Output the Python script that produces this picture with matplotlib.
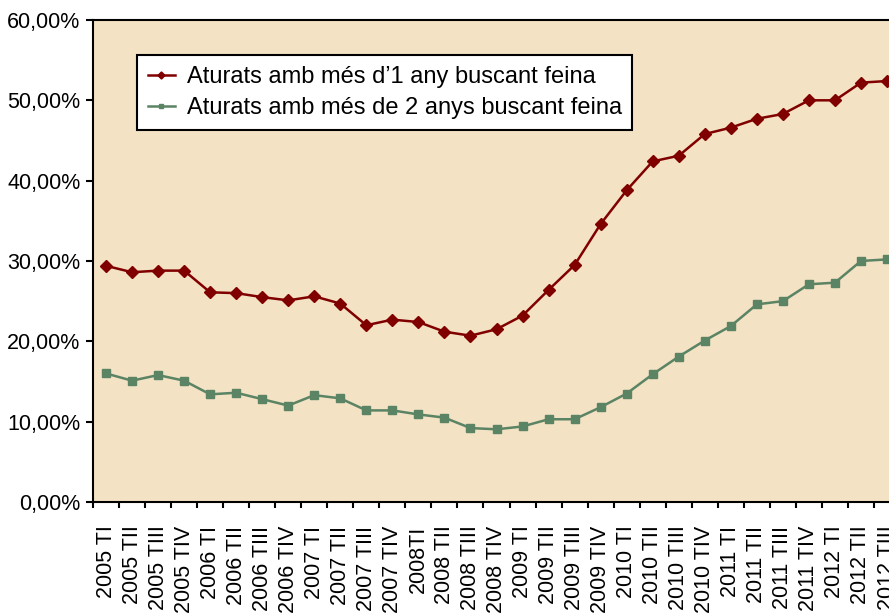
import numpy as np
import matplotlib.pyplot as plt
from matplotlib.ticker import FuncFormatter, FixedLocator

plt.rcParams['font.family'] = ['Liberation Sans', 'DejaVu Sans']

trimestres = ['2005 TI', '2005 TII', '2005 TIII', '2005 TIV',
              '2006 TI', '2006 TII', '2006 TIII', '2006 TIV',
              '2007 TI', '2007 TII', '2007 TIII', '2007 TIV',
              '2008TI', '2008 TII', '2008 TIII', '2008 TIV',
              '2009 TI', '2009 TII', '2009 TIII', '2009 TIV',
              '2010 TI', '2010 TII', '2010 TIII', '2010 TIV',
              '2011 TI', '2011 TII', '2011 TIII', '2011 TIV',
              '2012 TI', '2012 TII', '2012 TIII']

# percentatges
mes_1_any = [29.4, 28.6, 28.8, 28.8, 26.1, 26.0, 25.5, 25.1, 25.6, 24.7,
             22.0, 22.7, 22.4, 21.2, 20.7, 21.5, 23.2, 26.4, 29.5, 34.6,
             38.8, 42.4, 43.1, 45.8, 46.6, 47.7, 48.3, 50.0, 50.0, 52.2, 52.4]
mes_2_anys = [16.0, 15.1, 15.8, 15.1, 13.4, 13.6, 12.8, 12.0, 13.3, 12.9,
              11.4, 11.4, 10.9, 10.5, 9.2, 9.05, 9.4, 10.3, 10.3, 11.8,
              13.5, 15.9, 18.1, 20.1, 21.9, 24.6, 25.0, 27.1, 27.3, 30.0, 30.2]

fig = plt.figure(figsize=(8.89, 6.13), dpi=100)
# the plot runs past the right edge of the figure, like the original
ax = fig.add_axes([0.1046, 0.1811, 0.9078, 0.7863])
ax.set_facecolor('#F4E2C4')

x = np.arange(len(trimestres))
ax.plot(x, mes_1_any, color='#800000', lw=1.8, marker='D', ms=6,
        label='Aturats amb més d\u20191 any buscant feina')
ax.plot(x, mes_2_anys, color='#5A8464', lw=1.8, marker='s', ms=6,
        label='Aturats amb més de 2 anys buscant feina')

ax.set_xlim(-0.5, len(trimestres) - 0.5)
ax.set_ylim(0, 60)
ax.set_yticks(np.arange(0, 61, 10))
ax.yaxis.set_major_formatter(FuncFormatter(lambda v, p: f'{v:.2f}%'.replace('.', ',')))

ax.set_xticks(x)
ax.set_xticklabels(trimestres, rotation=90)
ax.xaxis.set_minor_locator(FixedLocator(np.arange(-0.5, len(trimestres), 1)))
ax.tick_params(axis='x', which='major', length=0, pad=17, labelsize=15.5)
ax.tick_params(axis='x', which='minor', length=4, width=1.5, color='black')
ax.tick_params(axis='y', length=5, width=1.5, pad=4, labelsize=15.5)

for s in ax.spines.values():
    s.set_linewidth(1.5)
    s.set_color('black')

leg = ax.legend(loc='upper left', bbox_to_anchor=(0.0545, 0.927), borderaxespad=0,
                fontsize=17, fancybox=False, framealpha=1, edgecolor='black',
                handlelength=1.15, handletextpad=0.5, markerscale=0.6,
                borderpad=0.45, labelspacing=0.4)
leg.get_frame().set_linewidth(1.5)

fig.savefig('out.png', dpi=100)
